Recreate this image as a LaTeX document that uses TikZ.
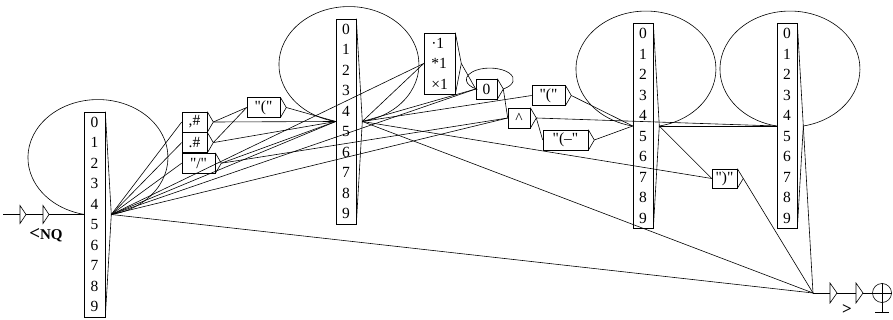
\documentclass[tikz,border=0pt]{standalone}
\usepackage{fontspec}
\setmainfont{Liberation Serif}[Ligatures=TeXOff]
\usetikzlibrary{positioning}

\newcommand\digitcol{0\\1\\2\\3\\4\\5\\6\\7\\8\\9}

\begin{document}
\begin{tikzpicture}[
    x = 1pt, y = -1pt,
    every node/.style = {font=\fontsize{15.5}{20.5}\selectfont},
    ubox/.style   = {rectangle, draw, line width=0.6pt, inner sep=1pt,
                     minimum height=20pt, align=center},
    digits/.style = {ubox, minimum width=20pt, minimum height=205pt},
    wire/.style   = {line width=0.6pt},
    tip/.style    = {wire, fill=white},
    tag/.style    = {font=\bfseries\fontsize{15}{15}\selectfont, inner sep=0pt}
  ]
  \useasboundingbox (0,0) rectangle (893,320);

  % digit columns
  \node[digits, minimum width=21pt] (dA) at (94.5,214.5) {\digitcol};
  \node[digits] (dB) at (346,121.5) {\digitcol};
  \node[digits] (dC) at (643,126) {\digitcol};
  \node[digits] (dD) at (787,126) {\digitcol};

  % separator boxes
  \node[ubox, minimum width=25pt] (comma) at (194.5,122) {,\#};
  \node[ubox, minimum width=25pt, below=0pt of comma] (dot) {.\#};
  \node[ubox, minimum width=33pt, anchor=north west] (slash) at (dot.south west) {"/"};
  \node[ubox, minimum width=33pt] (parA) at (263.5,107.5) {"("};
  \node[ubox, minimum width=31pt, minimum height=61pt, align=left] (mult) at (439.5,63.5) {·1\\*1\\×1};
  \node[ubox, minimum width=21pt] (zero) at (486.5,89) {0};
  \node[ubox, minimum width=22pt] (hat) at (519,118) {\textasciicircum};
  \node[ubox, minimum width=33pt] (parB) at (548.5,95.5) {"("};
  \node[ubox, minimum width=45pt] (parDash) at (565.5,140) {"(–"};
  \node[ubox, minimum width=25pt, minimum height=19pt] (close) at (724.5,178.5) {")"};

  % output tips
  \foreach \n in {dA,dB,dC,dD,comma,dot,slash,parA,mult,zero,hat,parB,parDash,close}
    \draw[wire] (\n.north east) -- ([xshift=6pt]\n.east) coordinate (\n-out) -- (\n.south east);

  % loops
  \foreach \n in {dA,dB,dC,dD}
    \draw[wire] (\n-out) arc[start angle=79, end angle=-259, x radius=70, y radius=58] -- (\n.west);
  \draw[wire] (zero-out) arc[start angle=55, end angle=-235, x radius=23.5, y radius=11.5] -- (zero.west);

  % transitions
  \foreach \s/\t in {dA/comma, dA/dot, dA/slash, dA/dB, dA/mult, dA/zero, dA/hat,
                     comma/parA, comma/dB, dot/parA, dot/dB, slash/dB, slash/hat, parA/dB,
                     dB/mult, dB/zero, dB/parB, dB/close,
                     mult/zero, zero/hat, hat/parDash, hat/dD,
                     parB/dC, parDash/dC, dC/close, dC/dD}
    \draw[wire] (\s-out) -- (\t.west);

  % initial state
  \coordinate (start) at (3,214.5);
  \draw[wire] (start) -- (dA.west);
  \foreach \x in {20,43}
    \draw[tip] (\x,205.5) -- (\x+6,214.5) -- (\x,223.5) -- cycle;
  \node[tag] (nq) at (46,235) {\fontsize{19}{19}\selectfont<\fontsize{15}{15}\selectfont NQ};

  % final state
  \coordinate (fin) at (813,293);
  \foreach \s in {dA,dB,close,dD}
    \draw[wire] (\s-out) -- (fin);
  \node[circle, draw, wire, minimum size=19pt, inner sep=0pt] (endc) at (882,293) {};
  \draw[wire] (fin) -- (endc.west);
  \foreach \x in {830,856}
    \draw[tip] (\x,283) -- (\x+7,293) -- (\x,303) -- cycle;
  \draw[wire] (endc.west) -- (endc.east);
  \draw[wire] (endc.north) -- ++(0,29) coordinate (foot);
  \draw[wire] ([xshift=-7pt]foot) -- ([xshift=7pt]foot);
  \node[tag, font=\bfseries\fontsize{17}{17}\selectfont] (gt) at (847,310) {>};

\end{tikzpicture}
\end{document}
